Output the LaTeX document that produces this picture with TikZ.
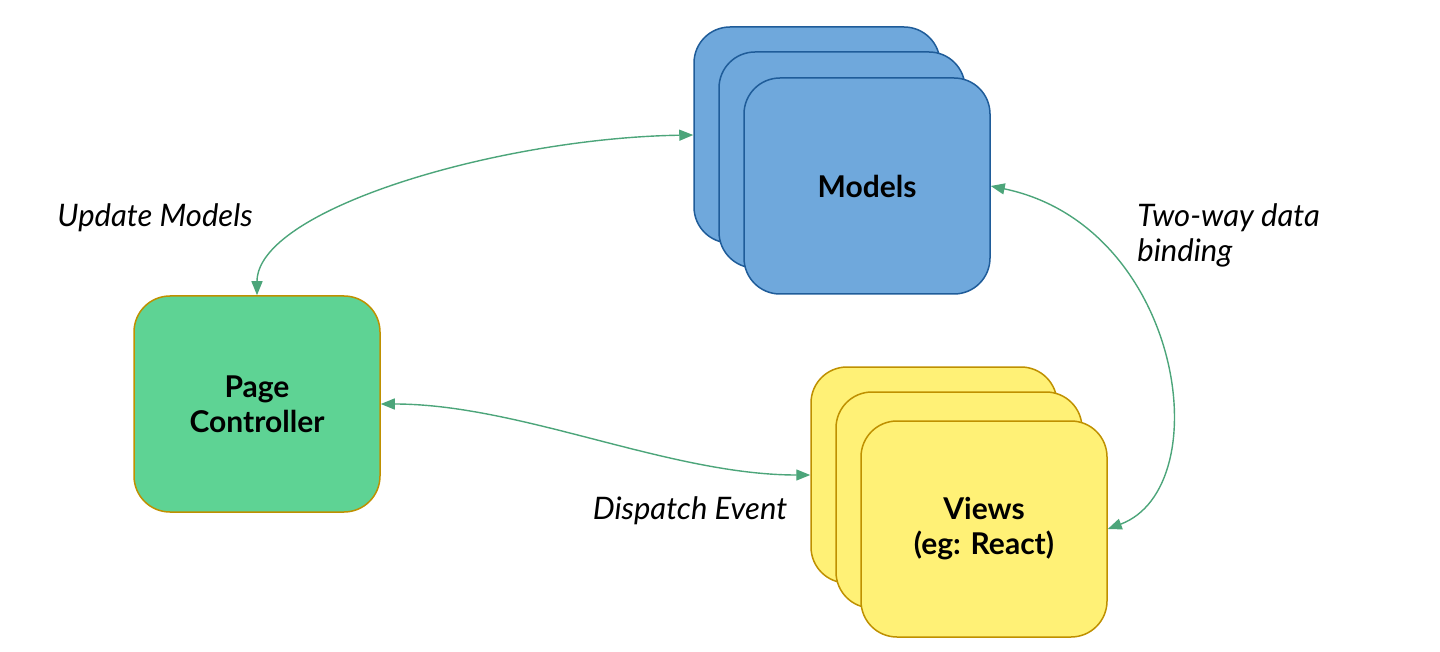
\documentclass[tikz,border=0pt]{standalone}
\usepackage{fontspec}
\setmainfont{Lato}
\usetikzlibrary{arrows.meta}
\definecolor{mfill}{HTML}{6FA8DC}
\definecolor{mline}{HTML}{1F5C99}
\definecolor{cfill}{HTML}{5ED394}
\definecolor{gold}{HTML}{BF9000}
\definecolor{vfill}{HTML}{FFF176}
\definecolor{arr}{HTML}{4CA57A}
\tikzset{
  box/.style={rectangle, rounded corners=18pt, minimum width=123pt, minimum height=108pt,
    line width=0.75pt, align=center, font=\fontsize{15}{17.5}\selectfont\bfseries, inner sep=0pt},
  modelbox/.style={box, fill=mfill, draw=mline},
  ctrlbox/.style={box, fill=cfill, draw=gold},
  viewbox/.style={box, fill=vfill, draw=gold},
  link/.style={draw=arr, line width=0.7pt, {Triangle[length=7pt,width=5.5pt]}-{Triangle[length=7pt,width=5.5pt]}, fill=none},
  lbl/.style={font=\fontsize{15.5}{17.5}\selectfont\itshape, inner sep=0pt}
}
\begin{document}
\begin{tikzpicture}[x=0.5pt,y=-0.5pt]
\useasboundingbox (0,0) rectangle (1440,652);
% Models stack
\node[modelbox] (m1) at (817,135) {};
\node[modelbox] (m2) at (842,160) {};
\node[modelbox] (m3) at (867,186) {Models};
% Page Controller
\node[ctrlbox] (pc) at (257,404) {Page\\Controller};
% Views stack
\node[viewbox] (v1) at (934,475) {};
\node[viewbox] (v2) at (959,500) {};
\node[viewbox] (v3) at (984,529) {Views\\(eg: React)};
% connectors
\draw[link] (m1.west) .. controls +(-194,3) and +(0,-86) .. (pc.north);
\draw[link] (pc.east) .. controls +(140,0) and +(-141,0) .. (v1.west);
\draw[link] (m3.east) .. controls +(192,40) and +(112,-42) .. (v3.east);
% labels
\node[lbl] (lu) at (155,218) {Update Models};
\node[lbl, anchor=west, align=left] (lt) at (1137,235) {Two-way data\\binding};
\node[lbl] (ld) at (690,511) {Dispatch Event};
\end{tikzpicture}
\end{document}
